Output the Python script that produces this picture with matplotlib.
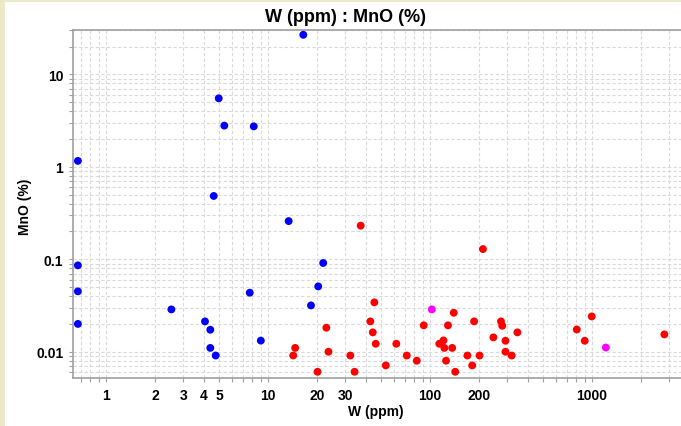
import matplotlib
matplotlib.use("Agg")
import matplotlib.pyplot as plt
from matplotlib.patches import Rectangle
from matplotlib.ticker import FixedLocator, FixedFormatter, NullFormatter
import numpy as np

plt.rcParams['font.family'] = ['Liberation Sans', 'DejaVu Sans']

# ---- data (W ppm, MnO %) ----
blue_w = [0.67, 0.67, 0.67, 0.67, 2.53, 4.08, 4.40, 4.40, 4.62, 4.75,
          4.96, 5.37, 7.71, 8.16, 9.02, 13.4, 16.5, 18.4, 20.4, 21.9]
blue_mno = [1.16, 0.086, 0.045, 0.020, 0.0287, 0.0213, 0.0173, 0.0110, 0.484, 0.0091,
            5.51, 2.79, 0.0435, 2.74, 0.0132, 0.259, 26.8, 0.0317, 0.0509, 0.0912]

red_w = [14.3, 14.7, 20.2, 22.9, 23.6, 32.2, 34.2, 37.3, 42.8, 44.3,
         45.3, 46.2, 53.3, 61.9, 71.8, 82.8, 91.4, 114, 121, 122.5,
         125.5, 129, 137, 140, 143, 170, 182, 187, 202, 212,
         246, 274, 279, 292, 292, 319, 346, 805, 901, 996, 2795]
red_mno = [0.0091, 0.0110, 0.00607, 0.0182, 0.0100, 0.0091, 0.00607, 0.231, 0.0213, 0.0162,
           0.0342, 0.0122, 0.00711, 0.0122, 0.0091, 0.0080, 0.0193, 0.0122, 0.01325, 0.0110,
           0.0080, 0.0193, 0.0110, 0.0264, 0.00607, 0.0091, 0.00711, 0.0213, 0.0091, 0.129,
           0.0143, 0.0213, 0.0191, 0.01315, 0.0100, 0.0091, 0.0162, 0.0174, 0.01315, 0.0241, 0.0154]

mag_w = [102.5, 1216]
mag_mno = [0.0287, 0.0111]

x_major_ticks = [1, 2, 3, 4, 5, 10, 20, 30, 100, 200, 1000]
x_major_labels = ['1', '2', '3', '4', '5', '10', '20', '30', '100', '200', '1000']
y_major_ticks = [0.01, 0.1, 1, 10]
y_major_labels = ['0.01', '0.1', '1', '10']

title = "W (ppm) : MnO (%)"
xlabel = "W (ppm)"
ylabel = "MnO (%)"

# ---- figure ----
W, H = 681, 427
fig = plt.figure(figsize=(W / 100, H / 100), dpi=100)
fig.patch.set_facecolor('#ECE8CA')
fig.patches.append(Rectangle((5 / W, 0), 1, (H - 3) / H, transform=fig.transFigure,
                             facecolor='white', edgecolor='none', zorder=-10))

ax = fig.add_axes([73 / W, (H - 379) / H, 1 - 73 / W, (379 - 31) / H])
ax.set_xscale('log')
ax.set_yscale('log')
ax.set_xlim(0.625, 3540)
ax.set_ylim(0.0052, 30.2)

ms = 32
ax.scatter(blue_w, blue_mno, s=ms, c='#0000FF', edgecolors='none', zorder=3)
ax.scatter(red_w, red_mno, s=ms, c='#FF0000', edgecolors='none', zorder=3)
ax.scatter(mag_w, mag_mno, s=ms, c='#FF00FF', edgecolors='none', zorder=3)

# ticks
minor_x = []
for d in [0.1, 1, 10, 100, 1000]:
    for m in range(1, 10):
        v = d * m
        if 0.625 <= v <= 3540 and v not in x_major_ticks:
            minor_x.append(v)
ax.xaxis.set_major_locator(FixedLocator(x_major_ticks))
ax.xaxis.set_major_formatter(FixedFormatter(x_major_labels))
ax.xaxis.set_minor_locator(FixedLocator(minor_x))
ax.xaxis.set_minor_formatter(NullFormatter())

minor_y = []
for d in [0.001, 0.01, 0.1, 1, 10]:
    for m in range(2, 10):
        v = d * m
        if 0.0052 <= v <= 30.2:
            minor_y.append(v)
ax.yaxis.set_major_locator(FixedLocator(y_major_ticks))
ax.yaxis.set_major_formatter(FixedFormatter(y_major_labels))
ax.yaxis.set_minor_locator(FixedLocator(minor_y))
ax.yaxis.set_minor_formatter(NullFormatter())

ax.tick_params(axis='both', which='both', direction='out', color='#A0A0A0',
               length=3, width=0.8)
ax.tick_params(axis='both', which='major', labelsize=10, pad=4)
for lab in ax.get_xticklabels() + ax.get_yticklabels():
    lab.set_fontweight('bold')

ax.grid(True, which='both', color='#DADADA', linestyle=(0, (3, 2)), linewidth=0.8)
ax.set_axisbelow(True)

for s in ['left', 'bottom', 'top']:
    ax.spines[s].set_color('#A0A0A0')
    ax.spines[s].set_linewidth(1.2)
ax.spines['right'].set_visible(False)

ax.set_xlabel(xlabel, fontsize=10, fontweight='bold')
ax.xaxis.set_label_coords((376 - 73) / (W - 73), -(412 - 379) / (379 - 31))
ax.set_ylabel(ylabel, fontsize=10, fontweight='bold')
ax.yaxis.set_label_coords(-(73 - 25) / (W - 73), (379 - 207) / (379 - 31))
ax.xaxis.label.set_va('center')
ax.yaxis.label.set_va('center')
fig.text(346 / W, 1 - 17 / H, title, ha='center', va='center', fontsize=13, fontweight='bold')

fig.savefig('out.png', dpi=100)
